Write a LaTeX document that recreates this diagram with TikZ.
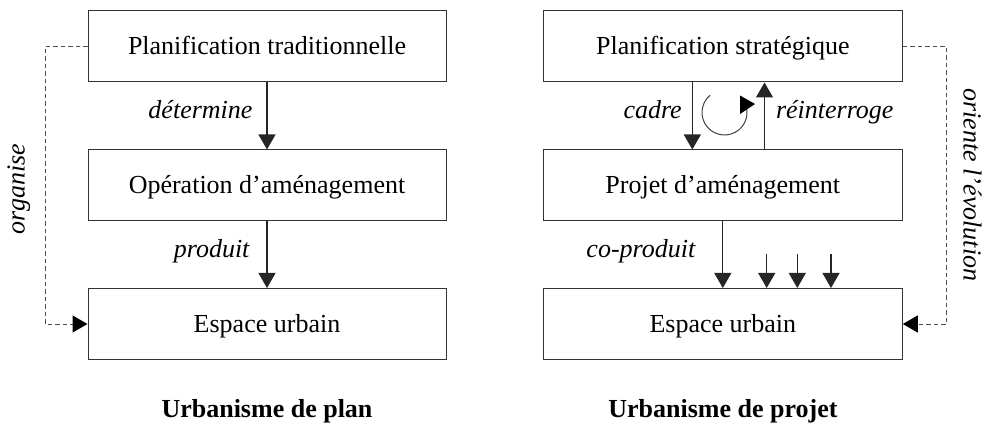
\documentclass[tikz,border=0pt]{standalone}
\usepackage{fontspec}
\setmainfont{Liberation Serif}
\usetikzlibrary{arrows.meta}
\begin{document}
\begin{tikzpicture}[x=1pt,y=-1pt,
  box/.style={draw=black!80, line width=1pt, minimum width=358pt, minimum height=71pt,
    inner sep=0pt, text height=17pt, text depth=0pt, font=\fontsize{26}{30}\selectfont},
  lbl/.style={font=\fontsize{26}{30}\selectfont\itshape, inner sep=0pt, text height=0.7em, text depth=0.2em},
  ttl/.style={font=\fontsize{26}{30}\selectfont\bfseries, inner sep=0pt},
  arr/.style={draw=black!85, line width=1.1pt, -{Triangle[width=17pt,length=15pt]}},
  darr/.style={draw=black!70, line width=1pt, dash pattern=on 4.5pt off 3pt,
    -{Triangle[width=17pt,length=15pt,color=black,fill=black]}}
]
\useasboundingbox (0,0) rectangle (982,430);

% left column
\node[box] (pt)  at (267,46.5)  {Planification traditionnelle};
\node[box] (op)  at (267,185.5) {Opération d’aménagement};
\node[box] (eu1) at (267,324)   {Espace urbain};
\draw[arr] (pt) -- node[lbl, left=14pt] {détermine} (op);
\draw[arr] (op) -- node[lbl, left=17pt] {produit} (eu1);
\coordinate (lx) at (45,0);
\draw[darr] (pt.west) -- (pt.west -| lx) -- (eu1.west -| lx) -- (eu1.west);
\node[lbl, rotate=90] (org) at (22,189) {organise};
\node[ttl] (t1) at (267,411) {Urbanisme de plan};

% right column
\node[box, minimum width=359pt] (ps)  at (722.8,46.5)  {Planification stratégique};
\node[box, minimum width=359pt] (pa)  at (722.8,185.5) {Projet d’aménagement};
\node[box, minimum width=359pt] (eu2) at (722.8,324)   {Espace urbain};
\draw[arr] ([xshift=-30.5pt]ps.south) -- node[lbl, left=10pt] {cadre} ([xshift=-30.5pt]pa.north);
\draw[arr] ([xshift=41.7pt]pa.north) -- node[lbl, right=11pt] {réinterroge} ([xshift=41.7pt]ps.south);
\draw[arr] (pa) -- node[lbl, left=27pt] {co-produit} (eu2);
\coordinate (s1) at (766.7,254);
\coordinate (s2) at (797.3,254);
\coordinate (s3) at (831,254);
\draw[arr] (s1) -- (s1 |- eu2.north);
\draw[arr] (s2) -- (s2 |- eu2.north);
\draw[arr] (s3) -- (s3 |- eu2.north);
\coordinate (rx) at (946.7,0);
\draw[darr] (ps.east) -- (ps.east -| rx) -- (eu2.east -| rx) -- (eu2.east);
\node[lbl, rotate=-90] (ori) at (966,185) {oriente l’évolution};
\node[ttl] (t2) at (723,411) {Urbanisme de projet};

% cycle arrow
\coordinate (cc) at (724.5,112.5);
\draw[draw=black!75, line width=1pt] (cc) ++(130:22.5pt) arc[start angle=130, end angle=372, radius=22.5pt];
\fill[black] (740,95.5) -- (740,114) -- (755,104) -- cycle;
\end{tikzpicture}
\end{document}
